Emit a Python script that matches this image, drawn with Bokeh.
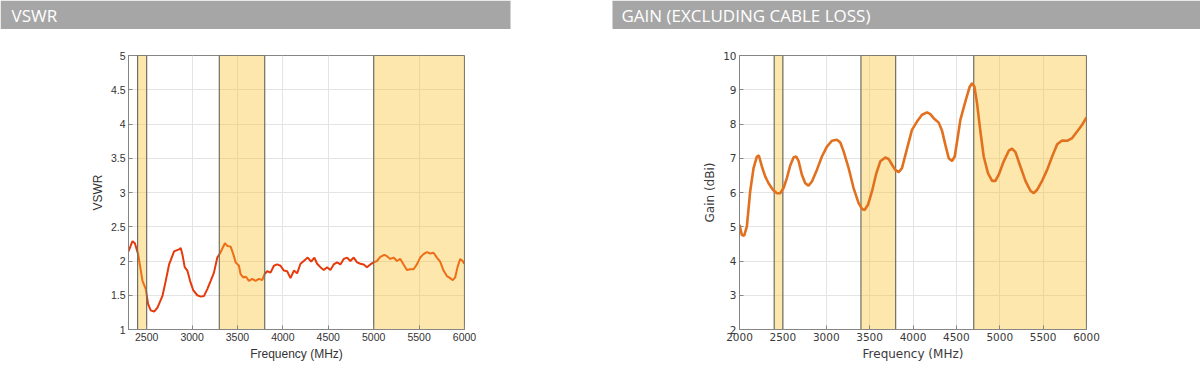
from bokeh.plotting import figure
from bokeh.models import Range1d, FixedTicker, CustomJSTickFormatter
from bokeh.layouts import column, row
from bokeh.core.properties import value
from bokeh.embed import file_html
from bokeh.resources import INLINE

# ---------------- data ----------------
vswr_freq = [2300, 2344, 2370, 2406, 2454, 2490, 2516, 2545, 2582, 2619, 2674, 2710, 2747, 2802, 2857,
             2875, 2893, 2919, 2948, 2978, 3014, 3058, 3095, 3132, 3168, 3205, 3241, 3278, 3307, 3340,
             3362, 3388, 3425, 3454, 3480, 3516, 3534, 3564, 3593, 3626, 3663, 3699, 3736, 3773, 3798,
             3827, 3864, 3901, 3937, 3974, 4011, 4047, 4084, 4121, 4157, 4194, 4230, 4274, 4311, 4347,
             4377, 4413, 4450, 4487, 4523, 4560, 4597, 4633, 4670, 4707, 4743, 4780, 4817, 4853, 4890,
             4926, 4963, 5000, 5036, 5073, 5117, 5146, 5183, 5219, 5256, 5293, 5329, 5366, 5402, 5439,
             5476, 5512, 5549, 5586, 5622, 5659, 5696, 5732, 5769, 5806, 5842, 5871, 5897, 5923, 5952,
             5981, 5996]
vswr_vals = [2.14, 2.29, 2.26, 2.10, 1.71, 1.59, 1.37, 1.28, 1.26, 1.32, 1.49, 1.71, 1.95, 2.14, 2.17,
             2.19, 2.10, 1.91, 1.86, 1.71, 1.57, 1.50, 1.48, 1.49, 1.59, 1.71, 1.83, 2.05, 2.11, 2.20,
             2.26, 2.22, 2.21, 2.10, 1.98, 1.93, 1.81, 1.76, 1.77, 1.71, 1.74, 1.71, 1.74, 1.72, 1.81,
             1.85, 1.83, 1.93, 1.95, 1.93, 1.86, 1.85, 1.75, 1.86, 1.82, 1.96, 2.00, 2.05, 1.99, 2.05,
             1.96, 1.91, 1.87, 1.91, 1.87, 1.95, 1.98, 1.95, 2.03, 2.05, 2.00, 2.05, 1.98, 1.96, 1.95,
             1.91, 1.95, 1.98, 2.00, 2.06, 2.09, 2.07, 2.03, 2.05, 2.00, 2.03, 1.95, 1.87, 1.88, 1.88,
             1.95, 2.05, 2.10, 2.13, 2.11, 2.12, 2.05, 1.99, 1.86, 1.78, 1.75, 1.72, 1.76, 1.91, 2.03,
             2.00, 1.96]
vswr_band_start = [2400, 3300, 5000]
vswr_band_end = [2500, 3800, 6000]
vswr_xticks = [2500, 3000, 3500, 4000, 4500, 5000, 5500, 6000]
vswr_yticks = [1, 1.5, 2, 2.5, 3, 3.5, 4, 4.5, 5]

gain_freq = [2000, 2027, 2054, 2085, 2123, 2162, 2200, 2223, 2258, 2296, 2335, 2385, 2431, 2469, 2508,
             2546, 2585, 2623, 2654, 2681, 2719, 2758, 2796, 2835, 2892, 2950, 3008, 3065, 3123, 3162,
             3200, 3258, 3315, 3373, 3412, 3442, 3481, 3527, 3577, 3623, 3681, 3719, 3758, 3796, 3835,
             3873, 3923, 3988, 4046, 4104, 4162, 4200, 4238, 4296, 4335, 4373, 4412, 4450, 4481, 4508,
             4546, 4604, 4654, 4681, 4708, 4738, 4777, 4815, 4865, 4912, 4950, 4988, 5046, 5104, 5142,
             5181, 5238, 5296, 5354, 5392, 5431, 5488, 5546, 5604, 5662, 5719, 5777, 5835, 5892, 5950,
             6000]
gain_vals = [5.06, 4.76, 4.74, 5.01, 6.03, 6.71, 7.05, 7.08, 6.76, 6.47, 6.27, 6.08, 5.98, 5.98, 6.13,
             6.42, 6.79, 7.02, 7.05, 6.92, 6.52, 6.27, 6.20, 6.32, 6.66, 7.05, 7.34, 7.51, 7.54, 7.46,
             7.20, 6.71, 6.13, 5.69, 5.52, 5.49, 5.64, 6.03, 6.56, 6.91, 7.02, 6.98, 6.81, 6.66, 6.59,
             6.71, 7.20, 7.83, 8.07, 8.27, 8.34, 8.29, 8.17, 8.04, 7.80, 7.39, 7.00, 6.92, 7.05, 7.49,
             8.12, 8.66, 9.09, 9.19, 9.09, 8.61, 7.78, 7.05, 6.56, 6.34, 6.34, 6.52, 6.91, 7.22, 7.28,
             7.18, 6.76, 6.34, 6.05, 5.98, 6.08, 6.34, 6.66, 7.05, 7.41, 7.52, 7.51, 7.59, 7.78, 7.98,
             8.19]
gain_band_start = [2400, 3400, 4700]
gain_band_end = [2500, 3800, 6000]
gain_xticks = [2000, 2500, 3000, 3500, 4000, 4500, 5000, 5500, 6000]
gain_yticks = [2, 3, 4, 5, 6, 7, 8, 9, 10]

titles = ["VSWR", "GAIN (EXCLUDING CABLE LOSS)"]

BAND_FILL = "#fbc02d"
BAND_EDGE = "#6e6e62"
GRID = "#e4e4e4"
FRAME = "#858585"

# ---------------- header ----------------
hdr = figure(width=1200, height=29, x_range=Range1d(0, 1200), y_range=Range1d(0, 29),
             output_backend="svg", toolbar_location=None, x_axis_type=None, y_axis_type=None,
             min_border=0, outline_line_color=None)
hdr.grid.visible = False
hdr.quad(left=[0, 612], right=[510, 1200], bottom=0, top=29, fill_color="#a6a6a6", line_color=None)
hdr.text(x=[11, 621], y=[14.5, 14.5], text=titles, text_color="white", text_font=value("Open Sans"),
         text_font_size="17px", text_baseline="middle", text_align="left")


def style(p, tick_font, tick_size, label_size, tick_color):
    p.outline_line_color = FRAME
    p.outline_line_width = 1
    for ax in (p.xaxis, p.yaxis):
        ax.axis_line_color = FRAME
        ax.major_tick_line_color = FRAME
        ax.major_tick_in = 4
        ax.major_tick_out = 0
        ax.minor_tick_line_color = None
        ax.major_label_text_font = tick_font
        ax.major_label_text_font_size = tick_size
        ax.major_label_text_color = tick_color
        ax.axis_label_text_font = tick_font
        ax.axis_label_text_font_size = label_size
        ax.axis_label_text_font_style = "normal"
        ax.axis_label_text_color = tick_color
        ax.major_label_standoff = 3
        ax.axis_label_standoff = 3
    p.grid.grid_line_color = GRID
    p.grid.grid_line_width = 1


# ---------------- VSWR ----------------
p1 = figure(frame_width=336, frame_height=274, x_range=Range1d(2300, 6000), y_range=Range1d(1, 5),
            output_backend="svg", toolbar_location=None,
            min_border_left=128, min_border_right=136, min_border_top=26, min_border_bottom=20,
            background_fill_color="white", border_fill_color="white")
p1.line(vswr_freq, vswr_vals, line_color="#e63a0c", line_width=2)
p1.quad(left=vswr_band_start, right=vswr_band_end, bottom=1, top=5,
        fill_color=BAND_FILL, fill_alpha=0.39, line_color=BAND_EDGE, line_width=1.2)
p1.xaxis.ticker = FixedTicker(ticks=vswr_xticks)
p1.yaxis.ticker = FixedTicker(ticks=vswr_yticks)
p1.yaxis.formatter = CustomJSTickFormatter(code="return String(tick);")
p1.xaxis.axis_label = "Frequency (MHz)"
p1.yaxis.axis_label = "VSWR"
style(p1, "Liberation Sans", "10.5px", "12px", "#333333")

# ---------------- Gain ----------------
p2 = figure(frame_width=347, frame_height=274, x_range=Range1d(2000, 6000), y_range=Range1d(2, 10),
            output_backend="svg", toolbar_location=None,
            min_border_left=139, min_border_right=114, min_border_top=25, min_border_bottom=20,
            background_fill_color="white", border_fill_color="white")
p2.quad(left=gain_band_start, right=gain_band_end, bottom=2, top=10,
        fill_color=BAND_FILL, fill_alpha=0.39, line_color=BAND_EDGE, line_width=1.2)
p2.line(gain_freq, gain_vals, line_color="#e2711f", line_width=2.6)
p2.xaxis.ticker = FixedTicker(ticks=gain_xticks)
p2.yaxis.ticker = FixedTicker(ticks=gain_yticks)
p2.xaxis.axis_label = "Frequency (MHz)"
p2.yaxis.axis_label = "Gain (dBi)"
style(p2, "DejaVu Sans", "10.5px", "12px", "#3a3a3a")

layout = column(hdr, row(p1, p2))
open("out.html", "w").write(file_html(layout, INLINE))
